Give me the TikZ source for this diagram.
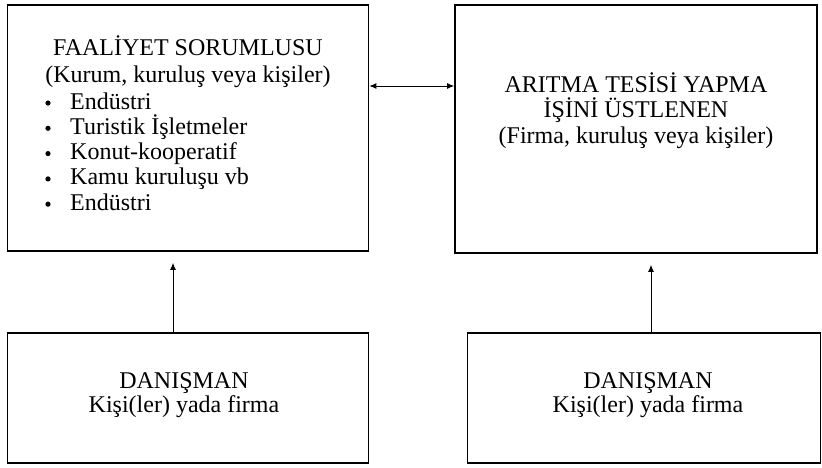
\documentclass[tikz,border=0pt]{standalone}
\usepackage{fontspec}
\setmainfont{Liberation Serif}
\usetikzlibrary{arrows.meta}
\tikzset{
  kutu/.style={draw,line width=1.7pt,inner sep=0pt},
  yazi/.style={font=\fontsize{24}{25}\selectfont,inner sep=0pt,anchor=base},
  ok/.style={line width=0.9pt,>={Latex[length=7pt,width=6pt]}}
}
\begin{document}
\begin{tikzpicture}[x=1pt,y=-1pt]
\useasboundingbox (0,0) rectangle (822,467);
% kutular
\node[kutu,minimum width=361pt,minimum height=246pt](faal) at (188,128){};
\node[kutu,minimum width=362pt,minimum height=248pt](arit) at (636,129){};
\node[kutu,minimum width=361pt,minimum height=130pt](dan1) at (188,398){};
\node[kutu,minimum width=353pt,minimum height=130pt](dan2) at (644,398){};
% yazilar
\node[yazi](f1) at (188,55){FAALİYET SORUMLUSU};
\node[yazi](f2) at (188,82){(Kurum, kuruluş veya kişiler)};
\foreach \m [count=\i from 0] in {Endüstri,Turistik İşletmeler,Konut-kooperatif,Kamu kuruluşu vb,Endüstri}{
  \node[yazi,anchor=base west](m\i) at (70,109+25.3*\i){\m};
  \fill (48,103+25.3*\i) circle (2.6);
}
\node[yazi](a1) at (636,92){ARITMA TESİSİ YAPMA};
\node[yazi](a2) at (636,117){İŞİNİ ÜSTLENEN};
\node[yazi](a3) at (636,143){(Firma, kuruluş veya kişiler)};
\node[yazi](d1) at (184,388){DANIŞMAN};
\node[yazi](d2) at (184,412){Kişi(ler) yada firma};
\node[yazi](e1) at (648,388){DANIŞMAN};
\node[yazi](e2) at (648,412){Kişi(ler) yada firma};
% oklar
\draw[ok,<->]([yshift=42pt]faal.east)--([yshift=43pt]arit.west);
\draw[ok,->]([xshift=-15pt]dan1.north)--([xshift=-15pt,yshift=-11pt]faal.south);
\draw[ok,->]([xshift=7pt]dan2.north)--([xshift=15pt,yshift=-11pt]arit.south);
\end{tikzpicture}
\end{document}
